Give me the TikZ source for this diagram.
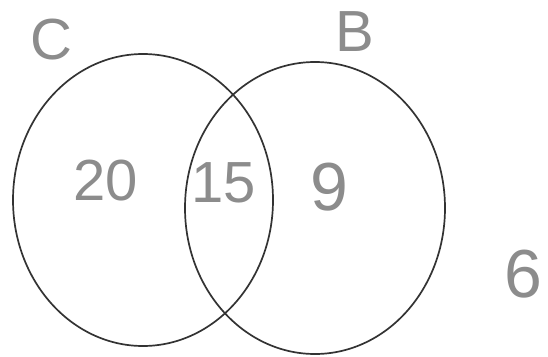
\documentclass[tikz,border=0pt]{standalone}
\usepackage{fontspec}
\setmainfont{Liberation Sans}
\begin{document}
\begin{tikzpicture}[x=1pt,y=-1pt,
  setline/.style={draw=black!80, line width=1.7pt},
  hand/.style={text=black!45, inner sep=0pt, font=\fontsize{58}{58}\selectfont}]
\useasboundingbox (0,0) rectangle (548,356);
\fill[white] (0,0) rectangle (548,356);
\draw[setline] (143,200) ellipse [x radius=130, y radius=146];
\draw[setline] (315,208) ellipse [x radius=130, y radius=146];
\node[hand] (c) at (51,40) {C};
\node[hand] (b) at (355,32) {B};
\node[hand] (n20) at (106,181) {20};
\node[hand] (n15) at (224,183) {15};
\node[hand, font=\fontsize{68}{68}\selectfont] (n9) at (329,187) {9};
\node[hand, font=\fontsize{68}{68}\selectfont] (n6) at (523,274) {6};
\end{tikzpicture}
\end{document}
